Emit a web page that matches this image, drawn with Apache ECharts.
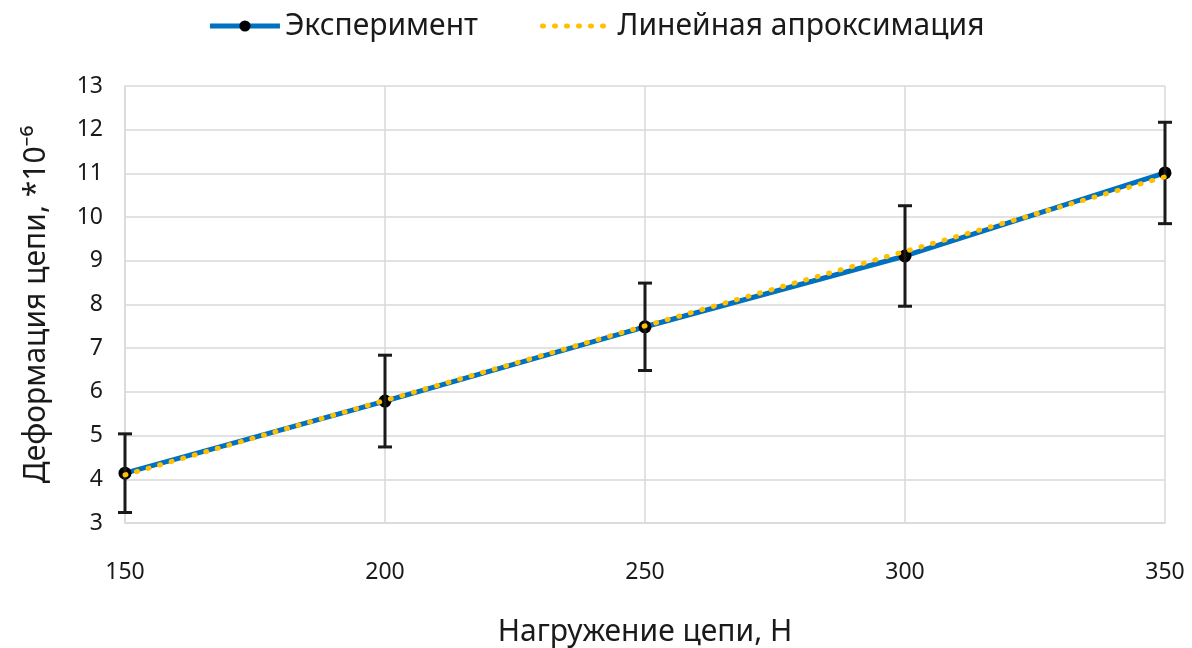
<!DOCTYPE html>
<html>
<head>
<meta charset="utf-8">
<script src="https://cdn.jsdelivr.net/npm/echarts@6/dist/echarts.min.js"></script>
<style>
  html, body { margin: 0; padding: 0; background: #fff; }
  #chart { width: 1192px; height: 648px; }
</style>
</head>
<body>
<div id="chart"></div>
<script>
// данные
const loads = [150, 200, 250, 300, 350];
const strain = [4.14, 5.79, 7.49, 9.11, 11.01];
const strainErr = [0.9, 1.05, 1.0, 1.15, 1.16];
const trendX = [150, 350];
const trendY = [4.10, 10.92];
const xTicks = [150, 200, 250, 300, 350];

const FONT = '"Noto Sans", sans-serif';

const myChart = echarts.init(document.getElementById("chart"));

const expData = loads.map((x, i) => [x, strain[i]]);
const errData = loads.map((x, i) => [x, strain[i] - strainErr[i], strain[i] + strainErr[i]]);
const trendData = trendX.map((x, i) => [x, trendY[i]]);

const option = {
  animation: false,
  backgroundColor: "#fff",
  textStyle: { fontFamily: FONT },
  legend: {
    top: 6,
    left: "center",
    itemWidth: 70,
    itemHeight: 14,
    itemGap: 62,
    textStyle: { fontFamily: FONT, fontSize: 30, color: "#1a1a1a" },
    data: [
      { name: "Эксперимент", lineStyle: { width: 5 } },
      { name: "Линейная апроксимация", itemStyle: { opacity: 0 }, lineStyle: { width: 5 } },
    ],
  },
  grid: { left: 125, right: 27, top: 86, bottom: 125, outerBoundsMode: "none" },
  xAxis: {
    type: "value",
    min: xTicks[0],
    max: xTicks[xTicks.length - 1],
    interval: 50,
    name: "Нагружение цепи, Н",
    nameLocation: "middle",
    nameGap: 94,
    nameTextStyle: { fontFamily: FONT, fontSize: 30, color: "#1a1a1a" },
    axisLine: { lineStyle: { color: "#d9d9d9", width: 1.5 } },
    axisTick: { show: false },
    axisLabel: { fontFamily: FONT, fontSize: 23, color: "#1a1a1a", margin: 38 },
    splitLine: { show: true, lineStyle: { color: "#d9d9d9", width: 1.5 } },
  },
  yAxis: {
    type: "value",
    min: 3,
    max: 13,
    interval: 1,
    name: "Деформация цепи, *10⁻⁶",
    nameLocation: "middle",
    nameGap: 74,
    nameTextStyle: { fontFamily: FONT, fontSize: 30, color: "#1a1a1a" },
    axisLine: { show: true, lineStyle: { color: "#d9d9d9", width: 1.5 } },
    axisTick: { show: false },
    axisLabel: { fontFamily: FONT, fontSize: 23, color: "#1a1a1a", margin: 22 },
    splitLine: { show: true, lineStyle: { color: "#d9d9d9", width: 1.5 } },
  },
  series: [
    {
      name: "Эксперимент",
      type: "line",
      data: expData,
      symbol: "circle",
      symbolSize: 13,
      itemStyle: { color: "#000" },
      lineStyle: { color: "#0070c0", width: 5 },
      z: 2,
    },
    {
      name: "err",
      type: "custom",
      data: errData,
      z: 3,
      renderItem: (params, api) => {
        const x = api.value(0);
        const lo = api.coord([x, api.value(1)]);
        const hi = api.coord([x, api.value(2)]);
        const half = 7;
        const style = { stroke: "#1a1a1a", lineWidth: 3 };
        return {
          type: "group",
          children: [
            { type: "line", shape: { x1: lo[0], y1: lo[1], x2: hi[0], y2: hi[1] }, style },
            { type: "line", shape: { x1: lo[0] - half, y1: lo[1], x2: lo[0] + half, y2: lo[1] }, style },
            { type: "line", shape: { x1: hi[0] - half, y1: hi[1], x2: hi[0] + half, y2: hi[1] }, style },
          ],
        };
      },
    },
    {
      name: "Линейная апроксимация",
      type: "line",
      data: trendData,
      symbol: "none",
      itemStyle: { color: "#ffc000" },
      lineStyle: { color: "#ffc000", width: 5, type: [1, 11], cap: "round" },
      z: 4,
    },
  ],
};

myChart.setOption(option);
</script>
</body>
</html>
